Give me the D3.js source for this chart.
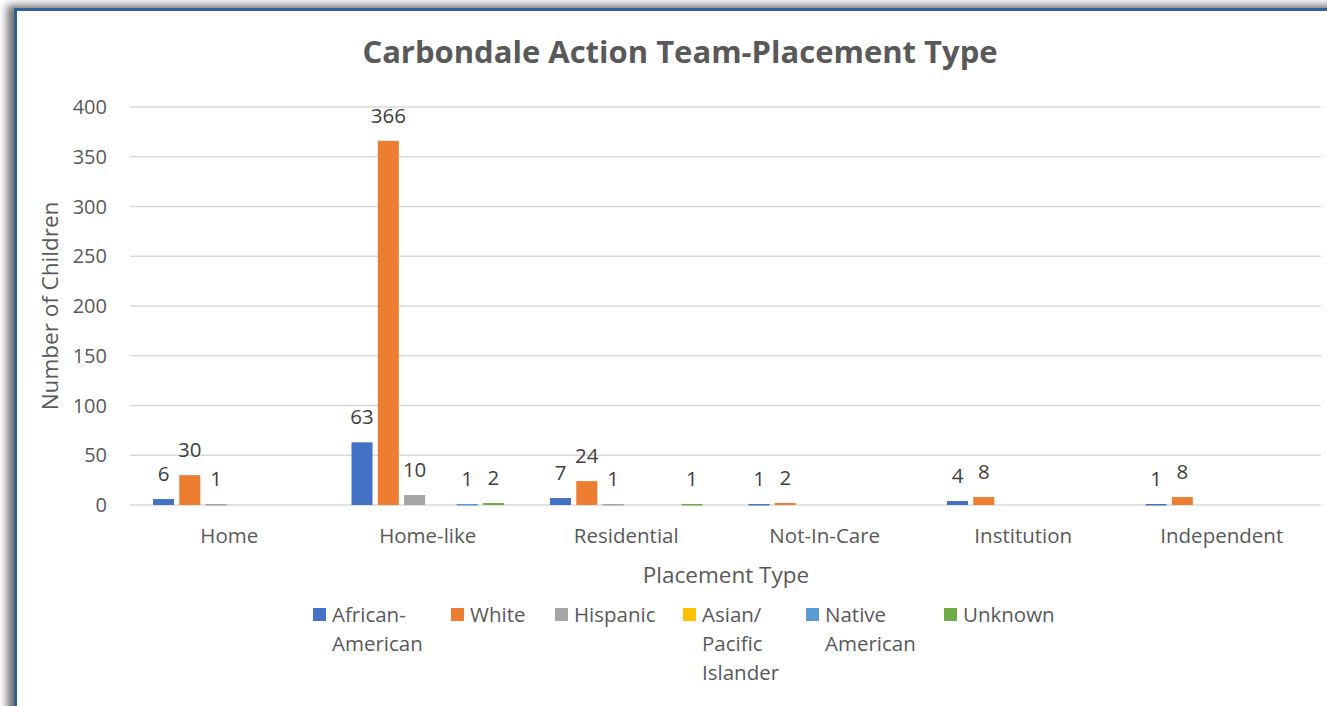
<!DOCTYPE html>
<html>
<head>
<meta charset="utf-8">
<script src="https://cdn.jsdelivr.net/npm/d3@7"></script>
<style>
  body { margin: 0; background: #fff; overflow: hidden; }
  #frame {
    position: absolute; left: 14px; top: 8px; width: 1400px; height: 800px;
    border-left: 3px solid #2f6096; border-top: 3px solid #2f6096;
    box-shadow: -7px -3px 8px rgba(0,0,0,0.55);
    background: #fff;
  }
  svg { position: absolute; left: 0; top: 0; }
  text { font-family: "Open Sans", "Liberation Sans", sans-serif; }
</style>
</head>
<body>
<div id="frame"></div>
<svg id="chart" width="1327" height="706"></svg>
<script>
const categories = ["Home", "Home-like", "Residential", "Not-In-Care", "Institution", "Independent"];
const seriesNames = ["African-American", "White", "Hispanic", "Asian/Pacific Islander", "Native American", "Unknown"];
const legendLines = [["African-", "American"], ["White"], ["Hispanic"], ["Asian/", "Pacific", "Islander"], ["Native", "American"], ["Unknown"]];
const colors = ["#4472c4", "#ed7d31", "#a5a5a5", "#ffc000", "#5b9bd5", "#70ad47"];

// values per series, in category order
const africanAmerican = [6, 63, 7, 1, 4, 1];
const white = [30, 366, 24, 2, 8, 8];
const hispanic = [1, 10, 1, 0, 0, 0];
const asianPacific = [0, 0, 0, 0, 0, 0];
const nativeAmerican = [0, 1, 0, 0, 0, 0];
const unknown = [0, 2, 1, 0, 0, 0];
const seriesValues = [africanAmerican, white, hispanic, asianPacific, nativeAmerican, unknown];

const yTicks = [0, 50, 100, 150, 200, 250, 300, 350, 400];

const svg = d3.select("#chart"),
  margin = { left: 130, right: 6, top: 107, bottom: 201 },
  width = +svg.attr("width"),
  height = +svg.attr("height"),
  plotW = width - margin.left - margin.right,
  plotH = height - margin.top - margin.bottom;

const textCol = "#595959";

const x0 = d3.scaleBand().domain(categories).range([margin.left, margin.left + plotW]).padding(0);
const x1 = d3.scaleBand().domain(seriesNames).range([0, x0.bandwidth()])
  .paddingInner(0.2).paddingOuter(0.875);
const y = d3.scaleLinear().domain([0, 400]).range([margin.top + plotH, margin.top]);

// gridlines
svg.append("g")
  .selectAll("line")
  .data(yTicks)
  .enter()
  .append("line")
  .attr("x1", margin.left)
  .attr("x2", margin.left + plotW)
  .attr("y1", d => y(d))
  .attr("y2", d => y(d))
  .attr("stroke", "#d9d9d9")
  .attr("stroke-width", 1.5);

// y tick labels
svg.append("g")
  .selectAll("text")
  .data(yTicks)
  .enter()
  .append("text")
  .attr("x", 107)
  .attr("y", d => y(d))
  .attr("dy", "0.35em")
  .attr("text-anchor", "end")
  .attr("font-size", 20)
  .attr("fill", textCol)
  .text(d => d);

// bars
const groups = svg.append("g")
  .selectAll("g")
  .data(categories)
  .enter()
  .append("g")
  .attr("transform", d => `translate(${x0(d)},0)`);

const cells = groups.selectAll("g")
  .data((c, ci) => seriesNames.map((s, si) => ({ s, si, v: seriesValues[si][ci] })))
  .enter();

cells.filter(d => d.v > 0)
  .append("rect")
  .attr("x", d => x1(d.s))
  .attr("width", x1.bandwidth())
  .attr("y", d => y(d.v))
  .attr("height", d => Math.max(1.5, y(0) - y(d.v)))
  .attr("fill", d => colors[d.si]);

cells.filter(d => d.v > 0)
  .append("text")
  .attr("x", d => x1(d.s) + x1.bandwidth() / 2)
  .attr("y", d => y(d.v) - 18)
  .attr("text-anchor", "middle")
  .attr("font-size", 20.5)
  .attr("fill", "#404040")
  .text(d => d.v);

// category labels
svg.append("g")
  .selectAll("text")
  .data(categories)
  .enter()
  .append("text")
  .attr("x", d => x0(d) + x0.bandwidth() / 2)
  .attr("y", 536)
  .attr("dy", "0.35em")
  .attr("text-anchor", "middle")
  .attr("font-size", 20.5)
  .attr("fill", textCol)
  .text(d => d);

// axis titles
svg.append("text")
  .attr("x", 726)
  .attr("y", 575)
  .attr("dy", "0.35em")
  .attr("text-anchor", "middle")
  .attr("font-size", 22.5)
  .attr("fill", textCol)
  .text("Placement Type");

svg.append("text")
  .attr("transform", `translate(50,${margin.top + plotH / 2}) rotate(-90)`)
  .attr("dy", "0.35em")
  .attr("text-anchor", "middle")
  .attr("font-size", 22.5)
  .attr("fill", textCol)
  .text("Number of Children");

// title
svg.append("text")
  .attr("x", 680)
  .attr("y", 52)
  .attr("dy", "0.35em")
  .attr("text-anchor", "middle")
  .attr("font-size", 31)
  .attr("font-weight", "bold")
  .attr("fill", textCol)
  .text("Carbondale Action Team-Placement Type");

// legend
const legendX = [313, 451, 555, 683, 806, 944];
const legend = svg.append("g");
const item = legend.selectAll("g")
  .data(seriesNames)
  .enter()
  .append("g")
  .attr("transform", (d, i) => `translate(${legendX[i]},615)`);

item.append("rect")
  .attr("x", 0)
  .attr("y", -7)
  .attr("width", 13)
  .attr("height", 13)
  .attr("fill", (d, i) => colors[i]);

item.append("text")
  .attr("font-size", 20.5)
  .attr("fill", textCol)
  .selectAll("tspan")
  .data((d, i) => legendLines[i])
  .enter()
  .append("tspan")
  .attr("x", 19)
  .attr("y", (d, i) => i * 29)
  .attr("dy", "0.35em")
  .text(d => d);
</script>
</body>
</html>
